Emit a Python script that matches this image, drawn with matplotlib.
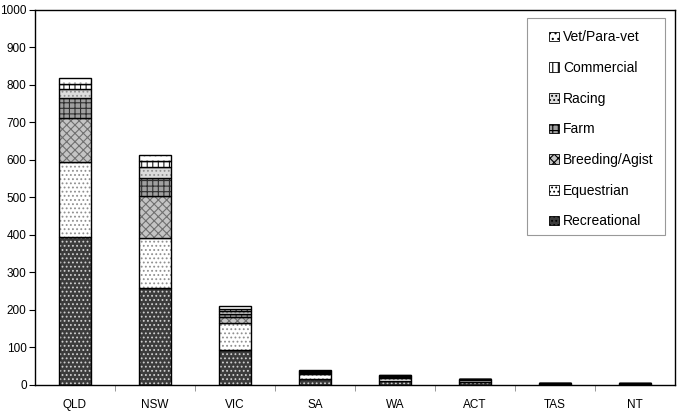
import matplotlib.pyplot as plt
import numpy as np
from matplotlib.patches import Patch, Rectangle

plt.rcParams['font.family'] = ['Liberation Sans', 'DejaVu Sans']
plt.rcParams['hatch.linewidth'] = 0.8

states = ["QLD", "NSW", "VIC", "SA", "WA", "ACT", "TAS", "NT"]
series = ["Recreational", "Equestrian", "Breeding/Agist", "Farm", "Racing", "Commercial", "Vet/Para-vet"]

recreational = [395, 258, 92, 15, 10, 8, 2, 2]
equestrian = [199, 134, 74, 13, 8, 5, 1, 1]
breeding = [117, 113, 14, 4, 4, 2, 1, 0.5]
farm = [55, 48, 8, 3, 2, 1, 0.5, 0.5]
racing = [23, 27, 8, 2, 1, 1, 0.5, 0]
commercial = [14, 17, 7, 1, 1, 0, 0, 0]
vet = [15, 16, 8, 1, 1, 0, 0, 0]

values = [recreational, equestrian, breeding, farm, racing, commercial, vet]

# face colour, hatch colour, hatch pattern
styles = [
    ("#3c3c3c", "#d0d0d0", "...."),
    ("white", "#909090", "...."),
    ("#c4c4c4", "#707070", "xxxx"),
    ("#a0a0a0", "#303030", "+++"),
    ("#dcdcdc", "#909090", "...."),
    ("white", "#202020", "|||"),
    ("white", "#b0b0b0", "..."),
]

fig = plt.figure(figsize=(6.83, 4.15), dpi=100)
ax = fig.add_axes([0.0512, 0.0723, 0.9368, 0.9037])

x = np.arange(len(states))
bottom = np.zeros(len(states))
handles = []
for name, vals, (face, hcol, hatch) in zip(series, values, styles):
    vals = np.array(vals, dtype=float)
    ax.bar(x, vals, 0.4, bottom=bottom, color=face, edgecolor=hcol, hatch=hatch, linewidth=0)
    ax.bar(x, vals, 0.4, bottom=bottom, fill=False, edgecolor="black", linewidth=1)
    handles.append(Patch(facecolor=face, edgecolor="black", hatch=hatch, linewidth=0.6, label=name))
    bottom += vals

ax.set_xlim(-0.5, len(states) - 0.5)
ax.set_ylim(0, 1000)
ax.set_yticks(range(0, 1001, 100))
ax.set_xticks(x)
ax.set_xticklabels(states)
ax.set_xticks(np.arange(0.5, len(states) - 1, 1), minor=True)
ax.tick_params(axis="x", which="major", length=0, pad=10, labelsize=8.5)
ax.tick_params(axis="x", which="minor", length=4, color="#888888")
ax.tick_params(axis="y", length=4, pad=2, labelsize=8.5)
for s in ax.spines.values():
    s.set_linewidth(1)

# legend box drawn separately so it can be wider than the entries need
ax.add_patch(Rectangle((0.769, 0.40), 0.215, 0.579, transform=ax.transAxes,
                       facecolor="white", edgecolor="#999999", linewidth=0.8, zorder=4))
leg = ax.legend(handles[::-1], series[::-1], loc="upper left",
                bbox_to_anchor=(0.784, 0.979), borderaxespad=0,
                fontsize=10, labelspacing=1.2, handlelength=0.7, handleheight=0.7,
                handletextpad=0.3, borderpad=0.9, frameon=False)
leg.set_zorder(5)

fig.savefig("out.png", dpi=100)
